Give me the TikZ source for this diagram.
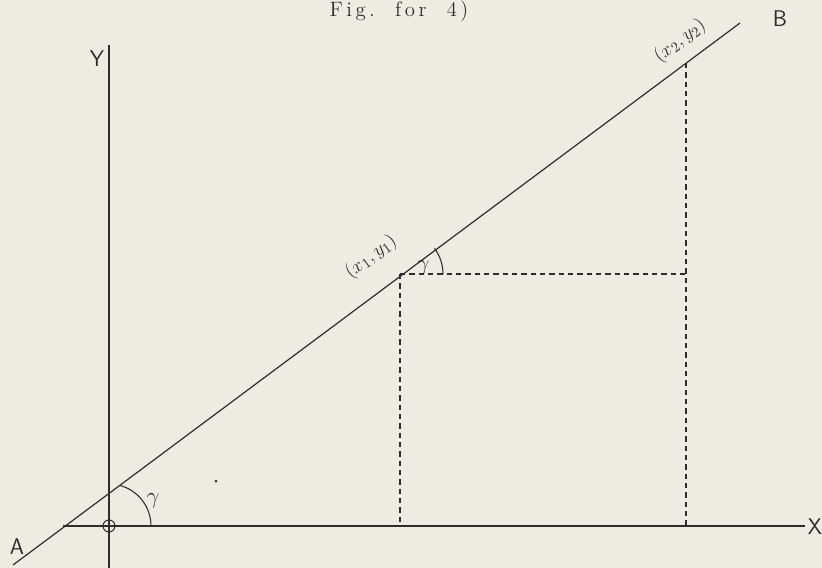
\documentclass[tikz,border=0pt]{standalone}
\usepackage{fontspec}
\definecolor{paper}{RGB}{238,236,226}
\definecolor{ink}{RGB}{45,45,45}
\begin{document}
\begin{tikzpicture}[x=0.75pt,y=-0.75pt,
  axis/.style={draw=ink,line width=0.9pt},
  guide/.style={draw=ink,line width=0.8pt,dash pattern=on 4pt off 3pt},
  hand/.style={text=ink,font=\sffamily\fontsize{17}{20}\selectfont,inner sep=0pt},
  lab/.style={text=ink,font=\fontsize{15}{17}\selectfont,inner sep=0pt,rotate=36.7},
  gam/.style={text=ink,font=\fontsize{16}{18}\selectfont,inner sep=0pt}]
\fill[paper] (0,0) rectangle (822,568);
\useasboundingbox (0,0) rectangle (822,568);
% caption
\node[text=ink,inner sep=0pt,font=\large,scale=1.3,transform shape] (cap) at (399,11) {F\,i\,g\,.\ \ \ f\,o\,r\ \ \ 4\,)};
% coordinates
\coordinate (Ae) at (13,565);
\coordinate (Be) at (740,23);
\coordinate (Xs) at (63,526);
\coordinate (Xe) at (805,526);
\coordinate (Yt) at (109,45);
\coordinate (Yb) at (109,568);
\coordinate (O) at (109,526);
\coordinate (P1) at (400,274);
\coordinate (P1r) at (686,274);
\coordinate (P1d) at (400,526);
\coordinate (P2) at (686,63);
\coordinate (P2d) at (686,526);
% axes
\draw[axis] (Xs) -- (Xe);
\draw[axis] (Yt) -- (Yb);
\draw[axis] (Ae) -- (Be);
\draw[ink,line width=0.8pt] (O) circle (6);
% guides
\draw[guide] (P1) -- (P1r);
\draw[guide] (P1) -- (P1d);
\draw[guide] (P2) -- (P2d);
% angle arcs
\draw[ink,line width=0.8pt] ([shift={(42,0)}]O) arc[start angle=0,end angle=-75,radius=42];
\draw[ink,line width=0.8pt] ([shift={(43,0)}]P1) arc[start angle=0,end angle=-36.7,radius=43];
% dot
\fill[ink] (216,481) circle (1.5);
% labels
\node[hand] (lY) at (97,59) {Y};
\node[hand] (lX) at (815,527) {X};
\node[hand] (lA) at (17,547) {A};
\node[hand] (lB) at (780,19) {B};
\node[gam] (g1) at (153,501) {$\gamma$};
\node[gam] (g2) at (423,268) {$\gamma$};
\node[lab] (l1) at (371,257) {$(x_1,y_1)$};
\node[lab] (l2) at (680,41) {$(x_2,y_2)$};
\end{tikzpicture}
\end{document}
